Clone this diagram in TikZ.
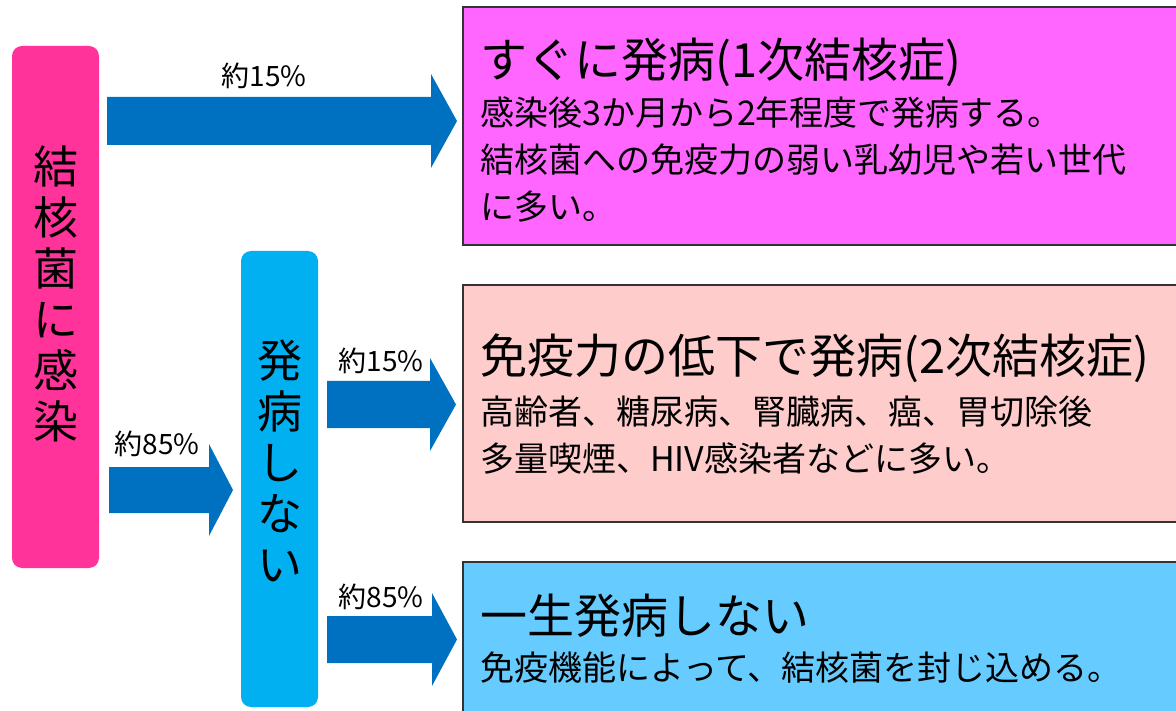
\documentclass[tikz,border=0pt]{standalone}
\usepackage{fontspec}
\setmainfont{Noto Sans CJK JP}
\definecolor{hotpink}{HTML}{FF3399}
\definecolor{skyb}{HTML}{00B0F0}
\definecolor{arrowb}{HTML}{0070C0}
\definecolor{magbox}{HTML}{FF66FF}
\definecolor{pinkbox}{HTML}{FFCCCC}
\definecolor{bluebox}{HTML}{66CCFF}
\tikzset{
  vbox/.style={rounded corners=10pt, draw=none},
  vtext/.style={align=center, font=\fontsize{45}{51}\selectfont, inner sep=0pt},
  rbox/.style={draw=black!80, line width=1.5pt},
  titletext/.style={anchor=west, inner sep=0pt, font=\fontsize{47}{52}\selectfont},
  bodytext/.style={anchor=west, inner sep=0pt, font=\fontsize{34}{40}\selectfont},
  pct/.style={inner sep=0pt, font=\fontsize{28}{30}\selectfont},
  blockarrow/.style={fill=arrowb, draw=none}
}
% #1 x start, #2 x head start, #3 x tip, #4 y mid, #5 shaft half, #6 head half
\newcommand{\blockarr}[6]{%
  \fill[blockarrow] (#1,#4-#5) -- (#2,#4-#5) -- (#2,#4-#6) -- (#3,#4) -- (#2,#4+#6) -- (#2,#4+#5) -- (#1,#4+#5) -- cycle;}
\begin{document}
\begin{tikzpicture}[x=1pt,y=-1pt]
\useasboundingbox (0,0) rectangle (1176,711);
% left boxes
\path[fill=hotpink, vbox] (12,46) rectangle (99,568);
\node[vtext] (infect) at (55.5,294) {結\\核\\菌\\に\\感\\染};
\path[fill=skyb, vbox] (241,251) rectangle (318,707);
\node[vtext] (nodis) at (279.5,461) {発\\病\\し\\な\\い};
% right boxes
\draw[rbox, fill=magbox] (463,7) rectangle (1190,245);
\draw[rbox, fill=pinkbox] (463,285) rectangle (1190,522);
\draw[rbox, fill=bluebox] (463,562) rectangle (1190,730);
% texts
\node[titletext] (t1) at (480,62) {すぐに発病(1次結核症)};
\node[bodytext] (t1a) at (480,113) {感染後3か月から2年程度で発病する。};
\node[bodytext] (t1b) at (480,160) {結核菌への免疫力の弱い乳幼児や若い世代};
\node[bodytext] (t1c) at (480,207) {に多い。};
\node[titletext] (t2) at (480,358) {免疫力の低下で発病(2次結核症)};
\node[bodytext] (t2a) at (480,412) {高齢者、糖尿病、腎臓病、癌、胃切除後};
\node[bodytext] (t2b) at (480,459) {多量喫煙、HIV感染者などに多い。};
\node[titletext] (t3) at (480,616) {一生発病しない};
\node[bodytext] (t3a) at (480,668) {免疫機能によって、結核菌を封じ込める。};
% arrows
\blockarr{107}{431}{457}{121}{24}{47}
\blockarr{109}{209}{233}{490}{23}{46}
\blockarr{327}{430}{456}{404.5}{23.5}{46.5}
\blockarr{327}{432}{457}{639.5}{23.5}{46.5}
% labels
\node[pct] (p1) at (264,76) {約15\%};
\node[pct] (p2) at (157,444) {約85\%};
\node[pct] (p3) at (381,361) {約15\%};
\node[pct] (p4) at (381,597) {約85\%};
\end{tikzpicture}
\end{document}
